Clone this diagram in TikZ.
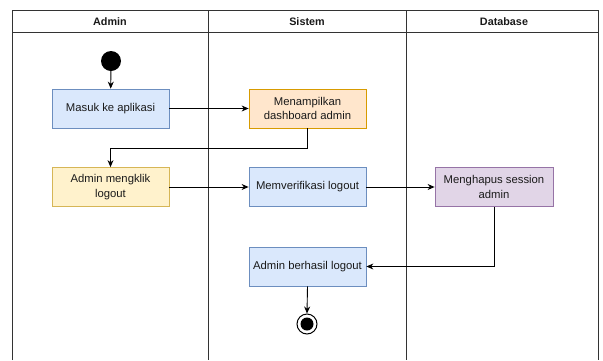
\documentclass[tikz,border=0pt]{standalone}
\usepackage{fontspec}
\setmainfont{Liberation Sans}
\usetikzlibrary{arrows.meta,positioning}
\definecolor{bluef}{HTML}{DAE8FC}\definecolor{blued}{HTML}{6C8EBF}
\definecolor{orf}{HTML}{FFE6CC}\definecolor{ord}{HTML}{D79B00}
\definecolor{yef}{HTML}{FFF2CC}\definecolor{yed}{HTML}{D6B656}
\definecolor{puf}{HTML}{E1D5E7}\definecolor{pud}{HTML}{9673A6}
\definecolor{lanec}{HTML}{333333}
\definecolor{txt}{HTML}{1A1A1A}
\tikzset{
  act/.style={draw, line width=0.8pt, minimum width=117pt, minimum height=39pt, align=center, inner sep=2pt, text=txt, font=\fontsize{11.3}{14.5}\selectfont},
  blueact/.style={act, fill=bluef, draw=blued},
  orangeact/.style={act, fill=orf, draw=ord},
  yellowact/.style={act, fill=yef, draw=yed},
  purpleact/.style={act, fill=puf, draw=pud},
  flow/.style={line width=0.9pt, -{Stealth[length=7pt,width=6pt]}},
  lane/.style={draw=lanec, line width=0.9pt},
  head/.style={text=txt, font=\bfseries\fontsize{10.8}{12}\selectfont}
}
\begin{document}
\begin{tikzpicture}[x=1pt,y=-1pt]
\useasboundingbox (0,0) rectangle (603,360);
\fill[white] (0,0) rectangle (603,360);
% swimlanes
\draw[lane] (12,360) -- (12,10) -- (598,10) -- (598,360);
\draw[lane] (12,32.5) -- (598,32.5);
\draw[lane] (208,10) -- (208,360);
\draw[lane] (406,10) -- (406,360);
\node[head] (hA) at (110,21.5) {Admin};
\node[head] (hS) at (307,21.5) {Sistem};
\node[head] (hD) at (504,21.5) {Database};
% nodes
\node[circle, fill=black, minimum size=20pt, inner sep=0pt] (start) at (111,61) {};
\node[blueact] (masuk) at (110.5,108.5) {Masuk ke aplikasi};
\node[orangeact] (tampil) at (307.5,108.5) {Menampilkan\\dashboard admin};
\node[yellowact] (klik) at (110.5,187) {Admin mengklik\\logout};
\node[blueact] (verif) at (307.5,187) {Memverifikasi logout};
\node[purpleact, minimum width=118pt] (hapus) at (494,187) {Menghapus session\\admin};
\node[blueact] (berhasil) at (307.5,266.5) {Admin berhasil logout};
\node[circle, draw=black, line width=1pt, fill=white, minimum size=20pt, inner sep=0pt] (endo) at (307,324) {};
\node[circle, fill=black, minimum size=13pt, inner sep=0pt] (endi) at (endo.center) {};
% connectors
\draw[flow] (start) -- (masuk);
\draw[flow] (masuk) -- (tampil);
\draw[flow] (tampil.south) -- ++(0,20) -| (klik.north);
\draw[flow] (klik) -- (verif);
\draw[flow] (verif) -- (hapus);
\draw[flow] (hapus.south) |- (berhasil.east);
\draw[flow] (berhasil.south) -- (endo.north);
\end{tikzpicture}
\end{document}
